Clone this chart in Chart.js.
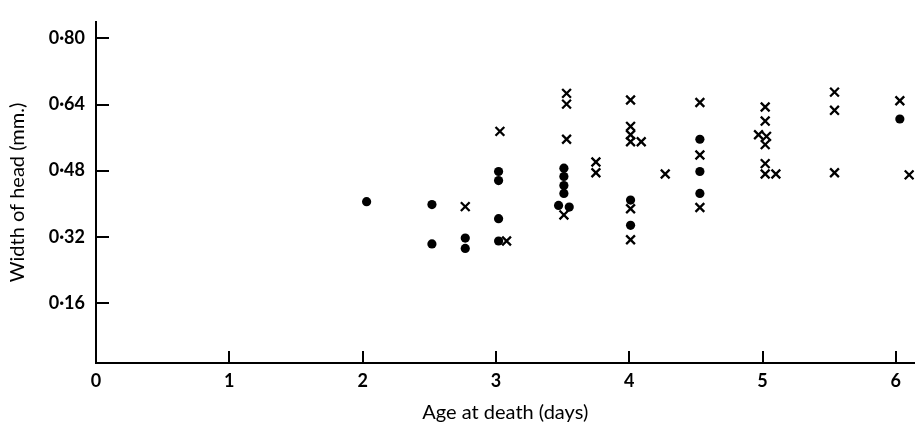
<!DOCTYPE html>
<html>
<head>
<meta charset="utf-8">
<script src="https://cdn.jsdelivr.net/npm/chart.js@4/dist/chart.umd.min.js"></script>
<style>
  html, body { margin: 0; padding: 0; background: #fff; }
  #wrap { width: 923px; height: 429px; }
</style>
</head>
<body>
<div id="wrap"><canvas id="chart" width="923" height="429"></canvas></div>
<script>
// Solid dots
var dotAges = [2.03, 2.52, 2.52, 2.77, 2.77, 3.02, 3.02, 3.02, 3.02, 3.51, 3.51, 3.51, 3.51, 3.47, 3.55, 4.01, 4.01, 4.53, 4.53, 4.53, 6.03];
var dotWidths = [0.405, 0.398, 0.303, 0.317, 0.292, 0.478, 0.456, 0.364, 0.310, 0.486, 0.466, 0.444, 0.425, 0.396, 0.392, 0.409, 0.348, 0.556, 0.478, 0.425, 0.605];
// Crosses
var crossAges = [2.77, 3.03, 3.08, 3.53, 3.53, 3.53, 3.51, 3.75, 3.75, 4.01, 4.01, 4.01, 4.01, 4.09, 4.01, 4.01, 4.27, 4.53, 4.53, 4.53, 5.02, 5.02, 4.97, 5.03, 5.02, 5.02, 5.02, 5.10, 5.54, 5.54, 5.54, 6.03, 6.10];
var crossWidths = [0.393, 0.575, 0.310, 0.667, 0.641, 0.556, 0.373, 0.501, 0.475, 0.651, 0.587, 0.567, 0.550, 0.550, 0.388, 0.313, 0.472, 0.645, 0.518, 0.391, 0.634, 0.600, 0.567, 0.563, 0.543, 0.497, 0.472, 0.472, 0.670, 0.626, 0.475, 0.649, 0.470];

var xTicks = [0, 1, 2, 3, 4, 5, 6];
var yTicks = [0.16, 0.32, 0.48, 0.64, 0.80];

function toPoints(xs, ys) {
  return xs.map(function(x, i) {
    return { x: x, y: ys[i] };
  });
}

function fixedTicks(values) {
  return function(scale) {
    scale.ticks = values.map(function(v) {
      return { value: v };
    });
  };
}

// short tick marks pointing into the plot
var innerTicks = {
  id: "innerTicks",
  afterDraw: function(chart) {
    var ctx = chart.ctx;
    var xs = chart.scales.x;
    var ys = chart.scales.y;
    var area = chart.chartArea;
    ctx.save();
    ctx.strokeStyle = "#000";
    ctx.lineWidth = 2;
    ctx.beginPath();
    xTicks.forEach(function(v) {
      if (v === 0) return;
      var px = Math.round(xs.getPixelForValue(v));
      ctx.moveTo(px, area.bottom);
      ctx.lineTo(px, area.bottom - 12);
    });
    yTicks.forEach(function(v) {
      var py = Math.round(ys.getPixelForValue(v));
      ctx.moveTo(area.left, py);
      ctx.lineTo(area.left + 13, py);
    });
    ctx.stroke();
    ctx.restore();
  }
};

var tickFont = { family: "Lato", size: 18, weight: "bold" };
var titleFont = { family: "Lato", size: 20, weight: "normal" };

new Chart(document.getElementById("chart").getContext("2d"), {
  type: "scatter",
  data: {
    datasets: [
      {
        label: "dots",
        data: toPoints(dotAges, dotWidths),
        pointStyle: "circle",
        pointRadius: 4.6,
        backgroundColor: "#000",
        borderColor: "#000",
        borderWidth: 0
      },
      {
        label: "crosses",
        data: toPoints(crossAges, crossWidths),
        pointStyle: "crossRot",
        pointRadius: 6.2,
        backgroundColor: "#000",
        borderColor: "#000",
        borderWidth: 2.3
      }
    ]
  },
  options: {
    responsive: false,
    animation: false,
    devicePixelRatio: 1,
    layout: { padding: { left: 0, top: 10, right: 0, bottom: 0 } },
    plugins: {
      legend: { display: false },
      tooltip: { enabled: false }
    },
    scales: {
      x: {
        type: "linear",
        min: 0,
        max: 6.14,
        afterBuildTicks: fixedTicks(xTicks),
        afterFit: function(scale) { scale.height = 66; },
        grid: { display: false, drawTicks: false },
        border: { display: true, color: "#000", width: 2 },
        ticks: {
          color: "#000",
          font: tickFont,
          padding: 7,
          maxRotation: 0,
          callback: function(v) { return String(v); }
        },
        title: {
          display: true,
          text: "Age at death (days)",
          color: "#000",
          font: titleFont,
          padding: { top: 0, bottom: 4 }
        }
      },
      y: {
        type: "linear",
        min: 0.015,
        max: 0.84,
        afterBuildTicks: fixedTicks(yTicks),
        afterFit: function(scale) { scale.width = 96; },
        grid: { display: false, drawTicks: false },
        border: { display: true, color: "#000", width: 2 },
        ticks: {
          color: "#000",
          font: tickFont,
          padding: 11,
          callback: function(v) { return v.toFixed(2).replace(".", "\u00b7"); }
        },
        title: {
          display: true,
          text: "Width of head (mm.)",
          color: "#000",
          font: titleFont,
          padding: { top: 6, bottom: 0 }
        }
      }
    }
  },
  plugins: [innerTicks]
});
</script>
</body>
</html>
